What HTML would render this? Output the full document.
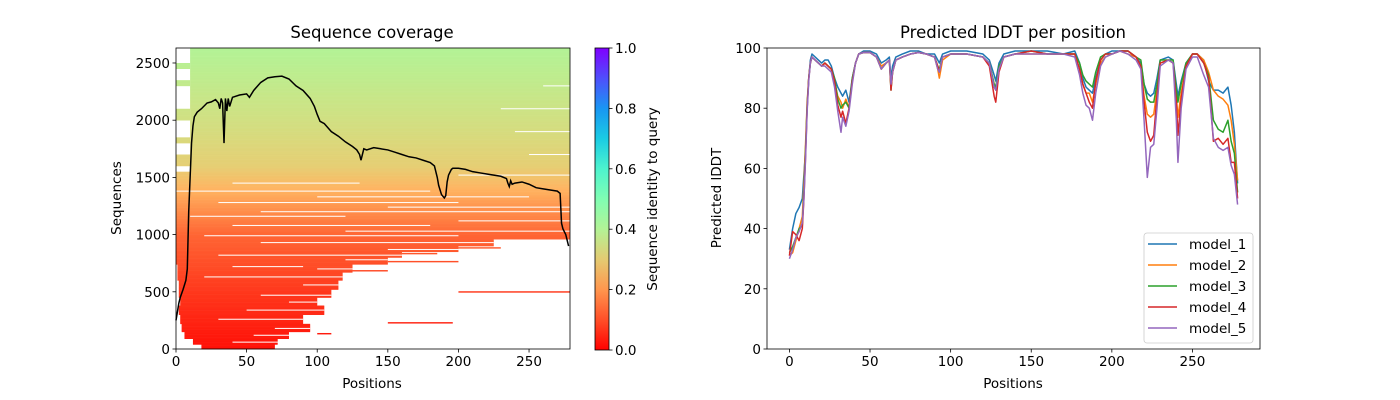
<!DOCTYPE html>
<html><head><meta charset="utf-8"><style>
html,body{margin:0;padding:0;background:#fff;}
svg{display:block;font-family:"DejaVu Sans","Liberation Sans",sans-serif;}
</style></head><body>
<svg id="fig" width="1400" height="400" viewBox="0 0 1400 400" xmlns="http://www.w3.org/2000/svg">
<defs>
<linearGradient id="cbg" x1="0" y1="1" x2="0" y2="0">
<stop offset="0" stop-color="#ff0000"/><stop offset="0.1" stop-color="#ff4f28"/><stop offset="0.2" stop-color="#ff964e"/><stop offset="0.3" stop-color="#e4cb72"/><stop offset="0.4" stop-color="#b3f396"/><stop offset="0.5" stop-color="#80feb3"/><stop offset="0.6" stop-color="#4df3ce"/><stop offset="0.7" stop-color="#1acbe4"/><stop offset="0.8" stop-color="#1996f3"/><stop offset="0.9" stop-color="#4f4ffc"/><stop offset="1" stop-color="#8000ff"/>
</linearGradient>
</defs>
<g id="left"></g>
<g id="right"></g>
</svg>
<script>
// ---- coverage data ----
const covX = [0,2,3,5,7,8,9,10,11,12,13,15,18,22,25,28,30,31,32,33,34,35,36,37,38,40,45,50,52,55,60,65,70,75,80,85,90,95,98,100,102,105,110,115,120,125,128,130,131,133,135,140,145,150,155,160,165,170,175,180,183,185,186,188,190,191,192,193,195,196,200,205,210,215,220,225,230,234,235,236,237,238,240,245,250,255,260,265,270,272,273,274,276,278];
const covY = [250,400,450,520,600,700,1200,1500,1800,1950,2030,2070,2100,2150,2160,2180,2150,2100,2190,2150,1800,2190,2080,2190,2120,2200,2220,2230,2200,2260,2330,2370,2380,2385,2360,2300,2260,2190,2120,2050,1990,1970,1900,1860,1810,1770,1740,1700,1650,1750,1740,1760,1750,1740,1720,1700,1680,1670,1650,1630,1600,1500,1430,1350,1320,1340,1460,1520,1570,1580,1580,1570,1550,1540,1530,1520,1510,1490,1450,1420,1470,1440,1450,1460,1440,1410,1400,1390,1380,1360,1100,1050,1000,900];
// heatmap bands: [seqStart, seqEnd, posStart, posEnd]
const bands = [[0,40,18,70],[40,90,12,72],[90,150,6,80],[150,220,4,95],[220,300,3,90],[300,380,2,105],[380,450,3,100],[450,520,2,110],[520,600,2,115],[600,670,1,118],[670,740,1,125],[740,800,0,150],[800,850,0,160],[850,900,0,200],[900,960,0,225],[960,1050,0,279],[1050,1300,0,279],[1300,1550,0,279],[1550,2631,10,279],[1600,1700,0,10],[1800,1850,0,10],[2000,2100,0,10],[2300,2350,0,10],[2450,2500,0,10],[495,505,200,279],[225,235,150,196],[130,140,100,110],[680,690,125,150],[760,770,150,200],[880,890,200,230],[830,840,160,185]];
// white gaps in coverage: [seq, posStart, posEnd]
const gaps = [[60,40,75],[120,55,80],[180,70,95],[260,30,90],[340,50,105],[410,80,100],[470,60,110],[560,90,115],[630,20,118],[700,100,125],[720,40,90],[780,120,150],[820,30,160],[870,150,200],[930,60,225],[990,20,200],[1030,120,279],[1080,40,180],[1120,200,279],[1160,10,120],[1200,60,279],[1240,150,279],[1280,30,200],[1330,100,250],[1380,0,180],[1450,40,130],[1520,200,279],[1700,250,279],[1900,240,279],[2100,230,279],[2300,260,279]];
const idSeq = [0,500,1000,1250,1400,1600,2000,2631];
const idVal = [0.02,0.07,0.13,0.2,0.25,0.3,0.34,0.40];
const nSeq = 2631;

// ---- pLDDT data ----
const pos = [0,2,4,6,8,9,10,11,12,13,14,16,18,20,22,24,26,28,30,32,33,35,37,39,41,43,46,50,54,57,60,62,63,64,66,70,75,80,85,90,92,93,95,100,110,120,124,127,128,130,133,140,150,160,170,177,180,182,184,186,188,190,193,196,200,205,210,215,218,220,222,224,226,228,230,235,238,240,241,243,246,250,253,257,260,263,266,269,272,274,276,278];
const model1 = [33,40,45,47,50,58,66,80,90,96,98,97,96,95,96,96,94,90,87,85,84,86,82,90,95,98,99,99,98,95,96,97,90,94,97,98,99,99,98,98,96,95,98,99,99,98,96,91,89,95,98,99,99,99,98,99,95,90,87,86,85,90,96,98,99,99,99,97,95,88,85,84,85,90,96,97,96,88,84,89,95,98,98,96,89,86,86,85,87,81,72,55];
const model2 = [31,32,36,40,44,55,68,82,90,95,97,96,95,94,95,94,93,89,84,82,80,83,80,89,95,98,98.5,98.5,97,94,95,96,87,92,96,97,98,98.5,98,97,93,90,96,98,98,97,95,88,86,93,97,98,98,98,98,98,93,88,85,85,82,88,95,97,98,99,98,97,94,84,78,77,78,86,95,96,95,84,77,85,94,98,98,96,92,86,84,83,81,76,68,56];
const model3 = [32,34,37,40,41,52,66,81,90,95,97,96,95,94,95,94,93,90,83,80,81,82,80,90,95,98,98.5,98.5,97,93,95,96,86,92,96,97,98,98.5,98,97,94,93,97,98,98,97,95,88,87,94,97,98,99,98,98,98,95,91,89,88,87,92,97,98,98,99,99,97,96,88,83,82,82,88,96,96,96,86,82,88,95,98,98,95,91,76,73,72,76,69,65,52];
const model4 = [31,39,38,36,40,50,64,80,90,95,97,96,95,94,95,94,93,89,81,77,79,75,80,89,95,98,98.5,98.5,97,93,95,96,86,92,96,97,98,98.5,98,97,94,92,97,98,98,97,94,84,82,92,97,98,99,98,98,98,93,88,85,82,80,89,96,98,98,99,99,97,94,82,72,69,71,84,95,96,95,82,71,83,94,98,98,95,90,69,70,68,70,62,62,50];
const model5 = [30,33,37,39,42,50,63,79,89,95,97,96,95,94,94,93,92,87,79,72,77,74,79,88,95,98,98.5,98.5,97,93,95,96,88,92,96,97,98,98.5,98,97,93,92,97,98,98,97,95,87,86,93,97,98,98,98,98,97,91,85,81,80,76,85,94,97,98,99,98,96,93,76,57,67,68,80,94,96,95,76,62,80,93,97,97,91,87,70,67,66,67,61,58,48];
const seriesNames = ["model_1","model_2","model_3","model_4","model_5"];
const seriesColors = ["#1f77b4","#ff7f0e","#2ca02c","#d62728","#9467bd"];
const seriesData = [model1,model2,model3,model4,model5];
const covXTicks = [0,50,100,150,200,250];
const covYTicks = [0,500,1000,1500,2000,2500];
const cbTicks = ["0.0","0.2","0.4","0.6","0.8","1.0"];
const pXTicks = [0,50,100,150,200,250];
const pYTicks = [0,20,40,60,80,100];

const NS="http://www.w3.org/2000/svg";
function mk(tag, attrs, parent, text){const e=document.createElementNS(NS,tag);for(const k in attrs)e.setAttribute(k,attrs[k]);if(text!==undefined)e.textContent=text;parent.appendChild(e);return e;}

const L={x0:176,x1:570,y0:349,y1:48,xmin:0,xmax:279,ymax:nSeq};
const lx=v=>L.x0+(v-L.xmin)/(L.xmax-L.xmin)*(L.x1-L.x0);
const ly=v=>L.y0-v/L.ymax*(L.y0-L.y1);
function idAt(s){for(let i=1;i<idSeq.length;i++){if(s<=idSeq[i]){const t=(s-idSeq[i-1])/(idSeq[i]-idSeq[i-1]);return idVal[i-1]+t*(idVal[i]-idVal[i-1]);}}return idVal[idVal.length-1];}
function cmap(v){const t=1-v;const c=x=>Math.round(Math.max(0,Math.min(1,x))*255);return `rgb(${c(Math.abs(2*t-0.5))},${c(Math.sin(Math.PI*t))},${c(Math.cos(Math.PI*t/2))})`;}

const left=document.getElementById('left');
const hm=mk('g',{},left);


bands.forEach(b=>{
  for(let s=b[0];s<b[1];s+=10){
    const e=Math.min(s+10,b[1]);
    const r=mk('rect',{x:lx(b[2]),y:ly(e),width:lx(b[3])-lx(b[2]),height:ly(s)-ly(e)+0.3,fill:cmap(idAt((s+e)/2))},hm);
    
    
  }
});
gaps.forEach(g=>{
  const r=mk('rect',{x:lx(g[1]),y:ly(g[0])-0.5,width:lx(g[2])-lx(g[1]),height:1,fill:'#fff'},hm);
  
  
});
const covLine=mk('polyline',{points:covX.map((x,i)=>lx(x)+','+ly(covY[i])).join(' '),fill:'none',stroke:'#000','stroke-width':1.5},left);


const lframe=mk('rect',{x:L.x0,y:L.y1,width:L.x1-L.x0,height:L.y0-L.y1,fill:'none',stroke:'#000','stroke-width':0.8},left);


covXTicks.forEach(t=>{const x=lx(t);mk('line',{x1:x,x2:x,y1:L.y0,y2:L.y0+3.5,stroke:'#000','stroke-width':0.8},left);
  const tx=mk('text',{x:x,y:L.y0+17,'font-size':13.5,'text-anchor':'middle'},left,String(t));
  });
covYTicks.forEach(t=>{const y=ly(t);mk('line',{x1:L.x0-3.5,x2:L.x0,y1:y,y2:y,stroke:'#000','stroke-width':0.8},left);
  const tx=mk('text',{x:L.x0-6,y:y+5,'font-size':13.5,'text-anchor':'end'},left,String(t));
  });
const CB={x0:595,x1:609,y0:350,y1:48};
const cb=mk('rect',{x:CB.x0,y:CB.y1,width:CB.x1-CB.x0,height:CB.y0-CB.y1,fill:'url(#cbg)',stroke:'#000','stroke-width':0.8},left);


cbTicks.forEach((t,i)=>{const y=CB.y0-i/5*(CB.y0-CB.y1);mk('line',{x1:CB.x1,x2:CB.x1+3.5,y1:y,y2:y,stroke:'#000','stroke-width':0.8},left);
  const tx=mk('text',{x:CB.x1+6,y:y+5,'font-size':13.5},left,t);
  });

const R={x0:767,x1:1260,y0:349,y1:48,xmin:-13.9,xmax:291.9,ymin:0,ymax:100};
const rx=v=>R.x0+(v-R.xmin)/(R.xmax-R.xmin)*(R.x1-R.x0);
const ry=v=>R.y0-(v-R.ymin)/(R.ymax-R.ymin)*(R.y0-R.y1);
const right=document.getElementById('right');
seriesData.forEach((d,k)=>{
  const pl=mk('polyline',{points:pos.map((p,i)=>rx(p)+','+ry(d[i])).join(' '),fill:'none',stroke:seriesColors[k],'stroke-width':1.5,'stroke-linejoin':'round'},right);
  
  
});
const rframe=mk('rect',{x:R.x0,y:R.y1,width:R.x1-R.x0,height:R.y0-R.y1,fill:'none',stroke:'#000','stroke-width':0.8},right);


pXTicks.forEach(t=>{const x=rx(t);mk('line',{x1:x,x2:x,y1:R.y0,y2:R.y0+3.5,stroke:'#000','stroke-width':0.8},right);
  const tx=mk('text',{x:x,y:R.y0+17,'font-size':13.5,'text-anchor':'middle'},right,String(t));
  });
pYTicks.forEach(t=>{const y=ry(t);mk('line',{x1:R.x0-3.5,x2:R.x0,y1:y,y2:y,stroke:'#000','stroke-width':0.8},right);
  const tx=mk('text',{x:R.x0-6,y:y+5,'font-size':13.5,'text-anchor':'end'},right,String(t));
  });
const lg=mk('g',{},right);


mk('rect',{x:1144,y:233,width:109,height:110,rx:3,fill:'#fff','fill-opacity':0.8,stroke:'#ccc','stroke-width':0.8},lg);
seriesNames.forEach((n,k)=>{const y=244+k*21;
  const ln=mk('line',{x1:1148,x2:1177,y1:y,y2:y,stroke:seriesColors[k],'stroke-width':1.5},lg);
  
  const tx=mk('text',{x:1189,y:y+5,'font-size':13.5},lg,n);
  });
</script>
<div style="position:absolute;left:0;top:0;width:1400px;height:400px;pointer-events:none;font-family:'DejaVu Sans','Liberation Sans',sans-serif;color:#000;">
<div style="position:absolute;left:372px;top:23px;transform:translateX(-50%);font-size:16.5px;white-space:nowrap;">Sequence coverage</div>
<div style="position:absolute;left:372px;top:376px;transform:translateX(-50%);font-size:13.5px;white-space:nowrap;">Positions</div>
<div style="position:absolute;left:117px;top:198px;transform:translate(-50%,-50%) rotate(-90deg);font-size:13.5px;white-space:nowrap;">Sequences</div>
<div style="position:absolute;left:653px;top:199px;transform:translate(-50%,-50%) rotate(-90deg);font-size:13.5px;white-space:nowrap;">Sequence identity to query</div>
<div style="position:absolute;left:1013px;top:23px;transform:translateX(-50%);font-size:16.5px;white-space:nowrap;">Predicted lDDT per position</div>
<div style="position:absolute;left:1013px;top:376px;transform:translateX(-50%);font-size:13.5px;white-space:nowrap;">Positions</div>
<div style="position:absolute;left:717px;top:198px;transform:translate(-50%,-50%) rotate(-90deg);font-size:13.5px;white-space:nowrap;">Predicted lDDT</div>
</div>
</body></html>
